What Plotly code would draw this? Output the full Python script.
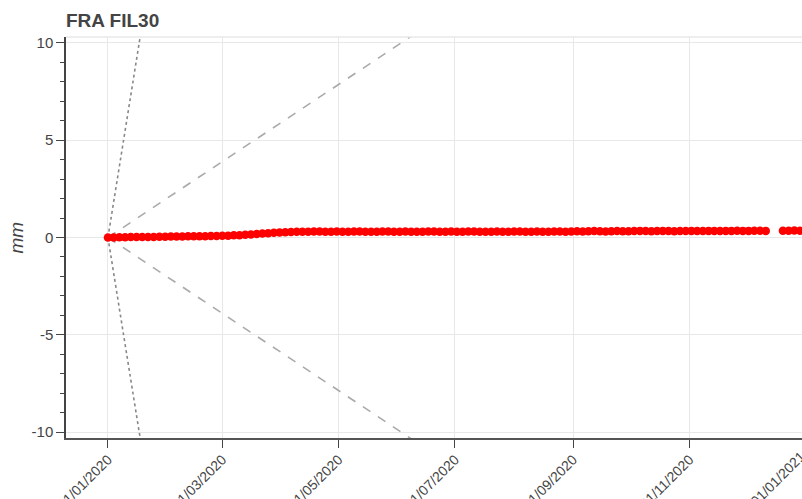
import pandas as pd
import plotly.graph_objects as go

# Displacement readings (mm), sampled every 3 days from 1 Jan 2020; None = no reading
start_date = "2020-01-01"
displacement_mm = [
    0.00, 0.00, 0.01, 0.01, 0.02, 0.02, 0.03, 0.03, 0.03, 0.04,
    0.04, 0.05, 0.05, 0.05, 0.06, 0.06, 0.07, 0.07, 0.08, 0.08,
    0.09, 0.09, 0.11, 0.12, 0.14, 0.16, 0.18, 0.20, 0.22, 0.24,
    0.26, 0.27, 0.28, 0.29, 0.30, 0.30, 0.31, 0.31, 0.30, 0.30,
    0.31, 0.30, 0.30, 0.31, 0.31, 0.30, 0.30, 0.30, 0.31, 0.31,
    0.30, 0.30, 0.31, 0.30, 0.30, 0.30, 0.31, 0.31, 0.30, 0.30,
    0.31, 0.30, 0.30, 0.31, 0.31, 0.30, 0.30, 0.30, 0.31, 0.30,
    0.30, 0.31, 0.31, 0.30, 0.30, 0.31, 0.30, 0.30, 0.31, 0.31,
    0.30, 0.31, 0.32, 0.31, 0.32, 0.33, 0.32, 0.31, 0.32, 0.33,
    0.32, 0.32, 0.33, 0.34, 0.33, 0.32, 0.33, 0.34, 0.33, 0.32,
    0.33, 0.33, 0.34, 0.33, 0.33, 0.34, 0.34, 0.33, 0.34, 0.34,
    0.35, 0.34, 0.34, 0.35, 0.35, 0.34, None, None, 0.35, 0.35,
    0.36, 0.35,
]
dates = pd.date_range(start_date, periods=len(displacement_mm), freq="3D")

# Threshold rates (mm/day) for the guide envelopes
alarm_rate = 0.61     # dotted
warning_rate = 0.065  # dashed
guide_span_days = 200

x_range = ["2019-12-10", "2020-12-30"]
y_range = [-10.3, 10.3]
y_ticks = [-10, -5, 0, 5, 10]
y_tick_text = ["-10", "-5", "0", "5", "10"]
# last date label, sitting just past the right edge of the plot
edge_tick_date = "2021-01-01"
edge_tick_text = "01/01/2021"

fig = go.Figure()

t0 = pd.Timestamp(start_date)
t1 = t0 + pd.Timedelta(days=guide_span_days)
for rate, dash, color in [(alarm_rate, "dot", "#888888"), (warning_rate, "dash", "#aaaaaa")]:
    for sign in (1, -1):
        fig.add_trace(go.Scatter(
            x=[t0, t1], y=[0, sign * rate * guide_span_days],
            mode="lines", line=dict(color=color, width=1.6, dash=dash),
            hoverinfo="skip", showlegend=False,
        ))

fig.add_trace(go.Scatter(
    x=dates, y=displacement_mm, mode="markers",
    marker=dict(color="#ff0000", size=8.5, line=dict(width=0)),
    showlegend=False,
))

font_family = "Liberation Sans, Arial, sans-serif"
axis_font = dict(family=font_family, size=14, color="#444444")

fig.update_xaxes(
    range=x_range, type="date",
    tick0="2020-01-01", dtick="M2", tickformat="%d/%m/%Y", tickangle=-45,
    ticks="outside", ticklen=8, tickcolor="#444444", tickwidth=1.2,
    ticklabelstandoff=-2,
    showline=True, linecolor="#555555", linewidth=1.8,
    showgrid=True, gridcolor="#e8e8e8", gridwidth=1,
    zeroline=False, tickfont=axis_font, automargin=False,
)
fig.update_yaxes(
    range=y_range, tickvals=y_ticks, ticktext=y_tick_text,
    ticks="outside", ticklen=8, tickcolor="#444444", tickwidth=1.2,
    minor=dict(dtick=1, tick0=0, ticks="outside", ticklen=4, tickcolor="#444444", showgrid=False),
    showline=True, linecolor="#444444", linewidth=1.5,
    showgrid=True, gridcolor="#e8e8e8", gridwidth=1,
    zeroline=False, tickfont=dict(family=font_family, size=15, color="#444444"),
    automargin=False,
)

# faint outline along the top of the plot area
fig.add_shape(type="line", xref="paper", yref="paper", x0=0, x1=1, y0=1, y1=1,
              line=dict(color="#e8e8e8", width=1.5))

# date label for the tick just beyond the visible range
span = pd.Timestamp(x_range[1]) - pd.Timestamp(x_range[0])
edge_frac = (pd.Timestamp(edge_tick_date) - pd.Timestamp(x_range[0])) / span
fig.add_annotation(
    text=edge_tick_text, xref="paper", yref="paper", x=edge_frac, y=0,
    xanchor="right", yanchor="top", xshift=5, yshift=-8, textangle=-45,
    showarrow=False, font=axis_font,
)

fig.add_annotation(
    text="<i>mm</i>", xref="paper", yref="paper", x=-0.0666, y=0.5,
    xanchor="center", yanchor="middle", textangle=-90, showarrow=False,
    font=dict(family=font_family, size=19, color="#444444"),
)

fig.update_layout(
    width=802, height=499,
    margin=dict(l=66, r=0, t=37, b=61),
    paper_bgcolor="white", plot_bgcolor="white",
    title=dict(
        text="<b>FRA FIL30</b>", x=66 / 802, xanchor="left", xref="container",
        y=1 - 20 / 499, yanchor="middle", yref="container",
        font=dict(family=font_family, size=19, color="#444444"),
    ),
)

fig.write_html("out.html")
